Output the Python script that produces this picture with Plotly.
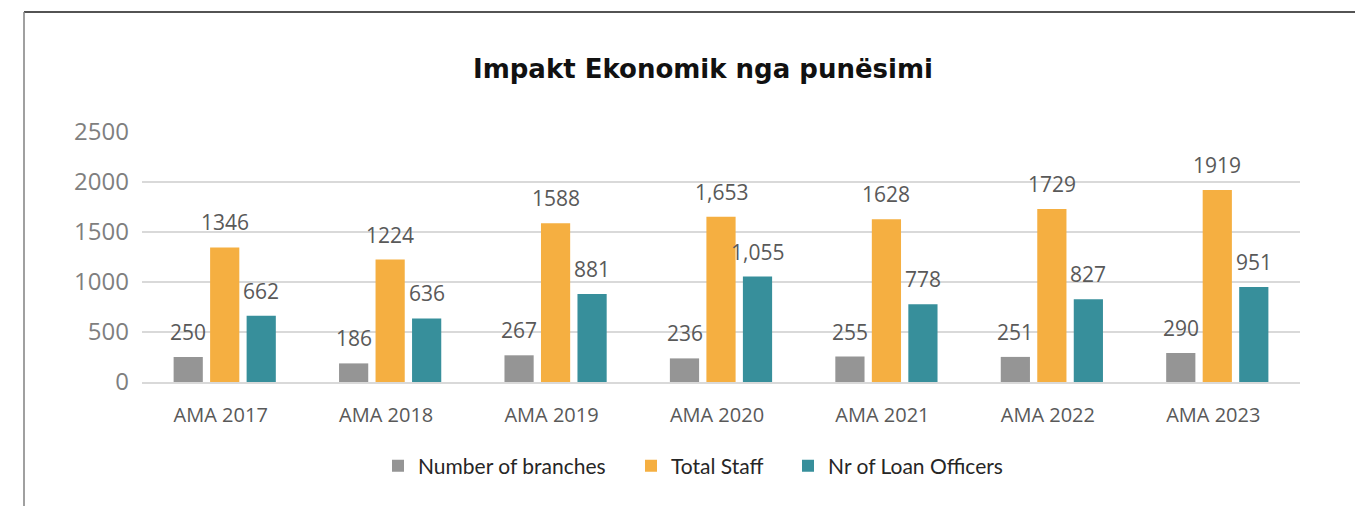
import plotly.graph_objects as go

categories = ["AMA 2017", "AMA 2018", "AMA 2019", "AMA 2020", "AMA 2021", "AMA 2022", "AMA 2023"]
branches = [250, 186, 267, 236, 255, 251, 290]
total_staff = [1346, 1224, 1588, 1653, 1628, 1729, 1919]
loan_officers = [662, 636, 881, 1055, 778, 827, 951]
branches_text = ["250", "186", "267", "236", "255", "251", "290"]
staff_text = ["1346", "1224", "1588", "1,653", "1628", "1729", "1919"]
officers_text = ["662", "636", "881", "1,055", "778", "827", "951"]
y_ticks = [0, 500, 1000, 1500, 2000, 2500]

series = [
    ("Number of branches", branches, branches_text, "#959595"),
    ("Total Staff", total_staff, staff_text, "#F5AF41"),
    ("Nr of Loan Officers", loan_officers, officers_text, "#378F9B"),
]
legend_ids = ["legend", "legend2", "legend3"]
legend_text_x = [418, 671, 828]  # page px where each legend text begins

# page has an 8px body margin; work in page pixels and convert
OFF = 8
W, H = 1363 - OFF, 506 - OFF
L, R = 142 - OFF, 1300 - OFF
T, B = 132 - OFF, 382 - OFF
pw = R - L
ph = B - T
def px(x):
    return (x - OFF - L) / pw
def py(y):
    return (B - (y - OFF)) / ph

fig = go.Figure()
annotations = []
for i, (name, vals, txt, col) in enumerate(series):
    fig.add_trace(go.Bar(name=name, x=categories, y=vals, legend=legend_ids[i],
                         marker=dict(color=col, line=dict(width=0))))
    for c, v, t in zip(categories, vals, txt):
        annotations.append(dict(x=c, y=v, text=t, showarrow=False, xref="x", yref="y",
                                xshift=(i - 1) * 36.5, yshift=25, yanchor="middle",
                                font=dict(family="Open Sans", size=21, color="#595959")))

shapes = [
    dict(type="line", xref="paper", yref="paper", x0=px(24), x1=px(1363), y0=py(12), y1=py(12),
         line=dict(color="#1a1a1a", width=1.5)),
    dict(type="line", xref="paper", yref="paper", x0=px(24), x1=px(24), y0=py(12), y1=py(506),
         line=dict(color="#808080", width=1.5)),
]

legend_style = dict(orientation="h", xanchor="left", yanchor="middle", y=py(466),
                    font=dict(family="Lato", size=21, color="#262626"), itemwidth=30,
                    bgcolor="rgba(0,0,0,0)")
legends = {lid: dict(legend_style, x=px(tx - 40)) for lid, tx in zip(legend_ids, legend_text_x)}

fig.update_layout(
    width=W, height=H,
    margin=dict(l=L, r=W - R, t=T, b=H - B, pad=0),
    paper_bgcolor="white", plot_bgcolor="white",
    barmode="group", bargap=0.338, bargroupgap=0.2,
    title=dict(text="<b>Impakt Ekonomik nga punësimi</b>", x=(703 - OFF) / W, xanchor="center",
               y=1 - (69 - OFF) / H, yanchor="middle",
               font=dict(family="DejaVu Sans", size=26, color="#111111")),
    annotations=annotations,
    shapes=shapes,
    showlegend=True,
    **legends,
)
fig.update_yaxes(range=[0, 2500], tickvals=y_ticks, showgrid=True, gridcolor="#d9d9d9", gridwidth=1.5,
                 zeroline=False, showline=False, ticks="", ticklabelstandoff=12,
                 tickfont=dict(family="Open Sans", size=24, color="#7f7f7f"))
fig.update_xaxes(showline=True, linecolor="#d9d9d9", linewidth=2, ticks="", ticklabelstandoff=14,
                 ticklabelshift=-4,
                 tickfont=dict(family="Open Sans", size=20, color="#595959"))

fig.write_html("out.html")
